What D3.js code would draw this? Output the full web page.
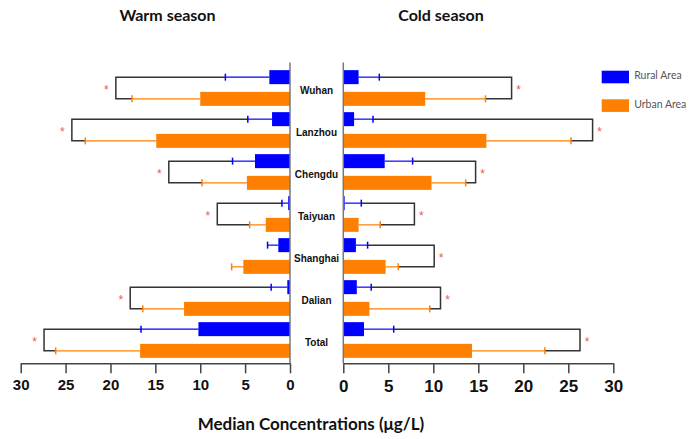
<!DOCTYPE html>
<html>
<head>
<meta charset="utf-8">
<script src="https://cdn.jsdelivr.net/npm/d3@7"></script>
<style>
  body { margin: 0; background: #ffffff; }
  svg { display: block; }
</style>
</head>
<body>
<div class="chart"></div>
<script>
// Categories (top to bottom).
const cities = ["Wuhan", "Lanzhou", "Chengdu", "Taiyuan", "Shanghai", "Dalian", "Total"];
// Warm season: medians, error bar ends and significance bracket positions.
const warmRural = [2.3, 2.0, 3.9, 0.2, 1.3, 0.3, 10.2];
const warmRuralErr = [7.2, 4.7, 6.4, 0.9, 2.5, 2.1, 16.6];
const warmUrban = [10.0, 14.9, 4.8, 2.7, 5.2, 11.8, 16.7];
const warmUrbanErr = [17.6, 22.8, 9.8, 4.5, 6.5, 16.4, 26.1];
const warmBracket = [19.4, 24.3, 13.5, 8.1, null, 17.8, 27.4];
// Cold season.
const coldRural = [1.7, 1.2, 4.6, 0.15, 1.4, 1.5, 2.3];
const coldRuralErr = [4.0, 3.3, 7.7, 2.0, 2.7, 3.1, 5.6];
const coldUrban = [9.1, 15.9, 9.8, 1.7, 4.7, 2.9, 14.3];
const coldUrbanErr = [15.8, 25.3, 13.6, 4.1, 6.1, 9.6, 22.4];
const coldBracket = [18.7, 27.7, 14.7, 7.9, 10.1, 10.8, 26.3];
// Axis ticks and legend.
const tickValues = [0, 5, 10, 15, 20, 25, 30];
const seriesKeys = ["rural", "urban"];
const seriesLabels = ["Rural Area", "Urban Area"];
const seriesColors = ["#0000ff", "#ff7f00"];

const width = 699;
const height = 439;
const axisY = 363.3;

const svg = d3.select(".chart")
  .append("svg")
  .attr("width", width)
  .attr("height", height);

// Left panel goes right-to-left, right panel left-to-right.
const xLeft = d3.scaleLinear().domain([0, 30]).range([290, 20.7]);
const xRight = d3.scaleLinear().domain([0, 30]).range([343.3, 613.3]);

// One band per city, two sub-bands for rural / urban.
const y = d3.scaleBand().domain(cities).range([67, 361]);
const ySub = d3.scaleBand()
  .domain(seriesKeys)
  .range([0, y.bandwidth()])
  .paddingInner(0.355)
  .paddingOuter(0.145);
const color = d3.scaleOrdinal().domain(seriesKeys).range(seriesColors);

function buildRows(rural, ruralErr, urban, urbanErr, bracket) {
  return cities.map((c, i) => ({
    city: c,
    rural: rural[i], ruralErr: ruralErr[i],
    urban: urban[i], urbanErr: urbanErr[i],
    bracket: bracket[i]
  }));
}

function drawPanel(rows, x, starSide, axisFont, labelPad) {
  const g = svg.append("g");
  const barCenter = (d, k) => y(d.city) + ySub(k) + ySub.bandwidth() / 2;

  // Brackets joining rural and urban error ends.
  g.selectAll(".bracket")
    .data(rows.filter(d => d.bracket !== null))
    .enter()
    .append("path")
    .attr("fill", "none")
    .attr("stroke", "#333333")
    .attr("stroke-width", 1.5)
    .attr("d", d => {
      const y1 = barCenter(d, "rural");
      const y2 = barCenter(d, "urban");
      return `M${x(d.ruralErr)},${y1}H${x(d.bracket)}V${y2}H${x(d.urbanErr)}`;
    });

  // Asterisks beside each bracket.
  g.selectAll(".star")
    .data(rows.filter(d => d.bracket !== null))
    .enter()
    .append("text")
    .attr("x", d => x(d.bracket) + starSide)
    .attr("y", d => (barCenter(d, "rural") + barCenter(d, "urban")) / 2 + 6)
    .attr("text-anchor", "middle")
    .attr("font-family", "Liberation Sans, Arial, sans-serif")
    .attr("font-size", "12px")
    .attr("fill", "#e8595a")
    .text("*");

  seriesKeys.forEach(k => {
    // Bars.
    g.selectAll(".bar-" + k)
      .data(rows)
      .enter()
      .append("rect")
      .attr("x", d => Math.min(x(0), x(d[k])))
      .attr("width", d => Math.abs(x(d[k]) - x(0)))
      .attr("y", d => y(d.city) + ySub(k))
      .attr("height", ySub.bandwidth())
      .attr("fill", color(k));
    // Error bar stems.
    g.selectAll(".err-" + k)
      .data(rows)
      .enter()
      .append("line")
      .attr("x1", d => x(d[k]))
      .attr("x2", d => x(d[k + "Err"]))
      .attr("y1", d => barCenter(d, k))
      .attr("y2", d => barCenter(d, k))
      .attr("stroke", color(k))
      .attr("stroke-width", 1.2);
    // Error bar caps.
    g.selectAll(".cap-" + k)
      .data(rows)
      .enter()
      .append("line")
      .attr("x1", d => x(d[k + "Err"]))
      .attr("x2", d => x(d[k + "Err"]))
      .attr("y1", d => barCenter(d, k) - 3.5)
      .attr("y2", d => barCenter(d, k) + 3.5)
      .attr("stroke", color(k))
      .attr("stroke-width", 1.5);
  });

  // Bottom axis.
  const axis = g.append("g")
    .attr("transform", `translate(0,${axisY})`)
    .call(d3.axisBottom(x).tickValues(tickValues).tickSize(10).tickSizeOuter(0).tickPadding(labelPad));
  axis.select(".domain").attr("stroke", "#444444").attr("stroke-width", 1.5);
  axis.selectAll(".tick line").attr("stroke", "#444444").attr("stroke-width", 1.5);
  axis.selectAll("text")
    .attr("font-family", "Liberation Sans, Arial, sans-serif")
    .attr("font-weight", "bold")
    .attr("font-size", axisFont)
    .attr("fill", "#111111");

  // Vertical zero line.
  g.append("line")
    .attr("x1", x(0))
    .attr("x2", x(0))
    .attr("y1", 62.5)
    .attr("y2", axisY)
    .attr("stroke", "#777777")
    .attr("stroke-width", 1.5);
}

drawPanel(buildRows(warmRural, warmRuralErr, warmUrban, warmUrbanErr, warmBracket), xLeft, -9.5, "15px", 6);
drawPanel(buildRows(coldRural, coldRuralErr, coldUrban, coldUrbanErr, coldBracket), xRight, 7, "17px", 7);

// City names between the panels.
svg.selectAll(".city")
  .data(cities)
  .enter()
  .append("text")
  .attr("x", 316.5)
  .attr("y", d => y(d) + y.bandwidth() / 2 + 2)
  .attr("dy", "0.35em")
  .attr("text-anchor", "middle")
  .attr("font-family", "Liberation Sans, Arial, sans-serif")
  .attr("font-weight", "bold")
  .attr("font-size", "10px")
  .attr("fill", "#111111")
  .text(d => d);

// Panel titles.
[["Warm season", 167.5], ["Cold season", 441]].forEach(([t, cx]) => {
  svg.append("text")
    .attr("x", cx)
    .attr("y", 21)
    .attr("text-anchor", "middle")
    .attr("font-family", "Lato, sans-serif")
    .attr("font-weight", "bold")
    .attr("font-size", "16px")
    .attr("fill", "#111111")
    .text(t);
});

// Axis title.
svg.append("text")
  .attr("x", 311)
  .attr("y", 430)
  .attr("text-anchor", "middle")
  .attr("font-family", "Lato, sans-serif")
  .attr("font-weight", "bold")
  .attr("font-size", "17px")
  .attr("fill", "#111111")
  .text("Median Concentrations (μg/L)");

// Legend.
const legend = svg.append("g").attr("transform", "translate(601.7,70.7)");
seriesKeys.forEach((k, i) => {
  legend.append("rect")
    .attr("x", 0)
    .attr("y", i * 28.6)
    .attr("width", 27.3)
    .attr("height", 12.6)
    .attr("fill", color(k));
  legend.append("text")
    .attr("x", 32.5)
    .attr("y", i * 28.6 + 8.5)
    .attr("font-family", "Lato, sans-serif")
    .attr("font-size", "10.5px")
    .attr("fill", "#555555")
    .text(seriesLabels[i]);
});
</script>
</body>
</html>
